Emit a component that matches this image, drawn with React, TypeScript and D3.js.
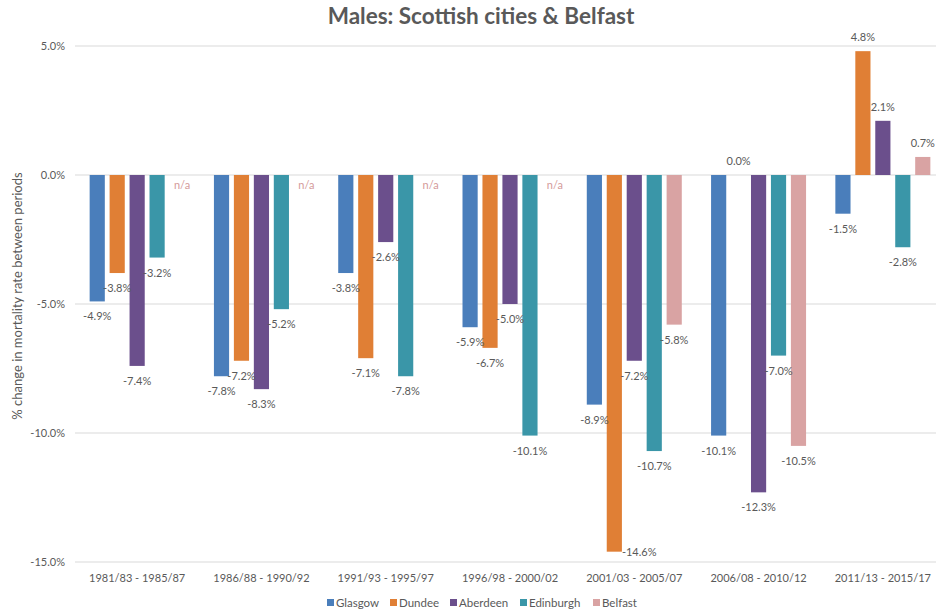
import React from "react";
import * as d3 from "d3";

const categories = [
  "1981/83 - 1985/87",
  "1986/88 - 1990/92",
  "1991/93 - 1995/97",
  "1996/98 - 2000/02",
  "2001/03 - 2005/07",
  "2006/08 - 2010/12",
  "2011/13 - 2015/17",
];
const seriesNames = ["Glasgow", "Dundee", "Aberdeen", "Edinburgh", "Belfast"];
const glasgow = [-4.9, -7.8, -3.8, -5.9, -8.9, -10.1, -1.5];
const dundee = [-3.8, -7.2, -7.1, -6.7, -14.6, 0.0, 4.8];
const aberdeen = [-7.4, -8.3, -2.6, -5.0, -7.2, -12.3, 2.1];
const edinburgh = [-3.2, -5.2, -7.8, -10.1, -10.7, -7.0, -2.8];
const belfast: (number | null)[] = [null, null, null, null, -5.8, -10.5, 0.7];
const yTicks = [5, 0, -5, -10, -15];
const colors = ["#4a7ebb", "#e07f35", "#6b4f8c", "#3a96a8", "#d9a3a3"];

const allSeries: (number | null)[][] = [glasgow, dundee, aberdeen, edinburgh, belfast];

const W = 936;
const H = 616;
const FONT = "Lato, 'Liberation Sans', sans-serif";
const TXT = "#595959";

export default function App() {
  const y = d3.scaleLinear().domain([-15, 5]).range([562, 46]);
  const x0 = d3.scaleBand().domain(categories).range([75, 945]).padding(0);
  const groupW = 95;
  const x1 = d3.scaleBand().domain(seriesNames).range([0, groupW]).paddingInner(0.24);
  const off = (x0.bandwidth() - groupW) / 2;
  const fmt = (v: number) => v.toFixed(1) + "%";

  const bars: React.ReactNode[] = [];
  const labels: React.ReactNode[] = [];
  allSeries.forEach((vals, si) => {
    const name = seriesNames[si];
    vals.forEach((v, ci) => {
      const bx = (x0(categories[ci]) as number) + off + (x1(name) as number);
      const bw = x1.bandwidth();
      const cx = bx + bw / 2;
      if (v === null) {
        labels.push(
          <text key={`na-${si}-${ci}`} x={cx + 5} y={y(0) + 14} textAnchor="middle"
            fontSize={11} fill="#d49a9a" fontFamily={FONT}>n/a</text>
        );
        return;
      }
      const top = Math.min(y(v), y(0));
      const h = Math.abs(y(v) - y(0));
      bars.push(<rect key={`b-${si}-${ci}`} x={bx} y={top} width={bw} height={h} fill={colors[si]} />);
      let ly = v >= 0 ? y(v) - 10 : y(v) + 19;
      let lx = cx;
      let anchor = "middle";
      if (ly > y(-15) - 2) {
        ly = y(v) + 4;
        lx = bx + bw;
        anchor = "start";
      }
      labels.push(
        <text key={`l-${si}-${ci}`} x={lx} y={ly} textAnchor={anchor} fontSize={11}
          fill={TXT} fontFamily={FONT}>{fmt(v)}</text>
      );
    });
  });

  const legendX = [327, 390, 450, 520, 593];

  return (
    <svg width={W} height={H} style={{ position: "absolute", left: 0, top: 0, background: "#fff" }}>
      <rect x={0} y={0} width={W} height={H} fill="#fff" />
      <text x={481} y={24} textAnchor="middle" fontSize={22.5} fontWeight="bold" fill={TXT} fontFamily={FONT}>
        Males: Scottish cities &amp; Belfast
      </text>
      {yTicks.map((t) => (
        <g key={t}>
          <line x1={75} x2={945} y1={y(t)} y2={y(t)} stroke="#d9d9d9" strokeWidth={1} />
          <text x={65} y={y(t) + 4} textAnchor="end" fontSize={11} fill={TXT} fontFamily={FONT}>
            {fmt(t)}
          </text>
        </g>
      ))}
      <text transform={`translate(22,${296}) rotate(-90)`} textAnchor="middle" fontSize={13} fill={TXT} fontFamily={FONT}>
        % change in mortality rate between periods
      </text>
      {bars}
      {labels}
      {categories.map((c) => (
        <text key={c} x={(x0(c) as number) + x0.bandwidth() / 2} y={582} textAnchor="middle"
          fontSize={11} fill={TXT} fontFamily={FONT}>{c}</text>
      ))}
      {seriesNames.map((s, i) => (
        <g key={s}>
          <rect x={legendX[i]} y={599} width={7} height={7} fill={colors[i]} />
          <text x={legendX[i] + 9} y={607} fontSize={11.5} fill={TXT} fontFamily={FONT}>{s}</text>
        </g>
      ))}
    </svg>
  );
}
